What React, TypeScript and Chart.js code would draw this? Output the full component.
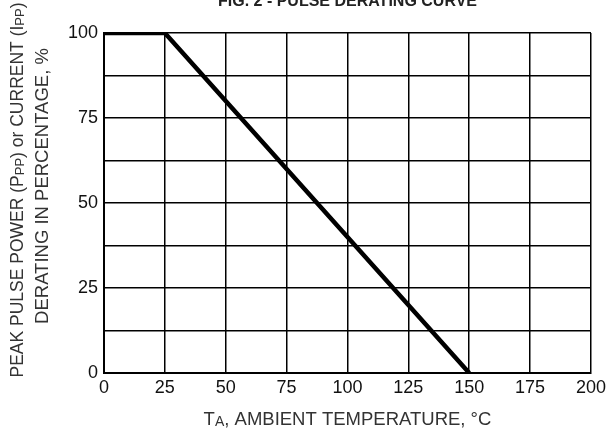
import React, { useEffect, useRef } from "react";
import { Chart, registerables } from "chart.js";

Chart.register(...registerables);

// ---- data ----
const temperatures = [0, 25, 150];
const deratingPct = [100, 100, 0];
const xTickValues = [0, 25, 50, 75, 100, 125, 150, 175, 200];
const yLabelValues = [0, 25, 50, 75, 100];
const chartTitle = "FIG. 2 - PULSE DERATING CURVE";
// [text, isSubscript]
const yTitleLine1: [string, boolean][] = [
  ["PEAK PULSE POWER (P", false],
  ["PP", true],
  [") or CURRENT (I", false],
  ["PP", true],
  [")", false],
];
const yTitleLine2: [string, boolean][] = [["DERATING IN PERCENTAGE, %", false]];
const xTitle: [string, boolean][] = [
  ["T", false],
  ["A", true],
  [", AMBIENT TEMPERATURE, °C", false],
];

const FONT = "'Liberation Sans', Arial, Helvetica, sans-serif";

function drawRuns(
  ctx: CanvasRenderingContext2D,
  runs: [string, boolean][],
  cx: number,
  baseline: number,
  size: number,
  color: string
) {
  const subSize = Math.round(size * 0.74);
  let total = 0;
  for (const [t, sub] of runs) {
    ctx.font = `${sub ? subSize : size}px ${FONT}`;
    total += ctx.measureText(t).width;
  }
  let x = cx - total / 2;
  ctx.fillStyle = color;
  ctx.textBaseline = "alphabetic";
  ctx.textAlign = "left";
  for (const [t, sub] of runs) {
    ctx.font = `${sub ? subSize : size}px ${FONT}`;
    ctx.fillText(t, x, baseline + (sub ? 1 : 0));
    x += ctx.measureText(t).width;
  }
}

const textPlugin = {
  id: "customTexts",
  afterDraw(chart: any) {
    const ctx: CanvasRenderingContext2D = chart.ctx;
    const area = chart.chartArea;
    const cx = (area.left + area.right) / 2;
    ctx.save();
    // title (partly cut off at top)
    ctx.font = `bold 16px ${FONT}`;
    ctx.fillStyle = "#222";
    ctx.textAlign = "center";
    ctx.textBaseline = "alphabetic";
    ctx.fillText(chartTitle, cx, 6);
    // x title
    drawRuns(ctx, xTitle, cx, 425, 18.5, "#333");
    // y titles (rotated)
    ctx.save();
    ctx.translate(23, 190);
    ctx.rotate(-Math.PI / 2);
    drawRuns(ctx, yTitleLine1, 0, 0, 17.5, "#333");
    ctx.restore();
    ctx.save();
    ctx.translate(48, 186);
    ctx.rotate(-Math.PI / 2);
    drawRuns(ctx, yTitleLine2, 0, 0, 18.5, "#333");
    ctx.restore();
    ctx.restore();
  },
};

export default function App() {
  const ref = useRef<HTMLCanvasElement | null>(null);
  useEffect(() => {
    if (!ref.current) return;
    const chart = new Chart(ref.current, {
      type: "line",
      data: {
        datasets: [
          {
            data: temperatures.map((t, i) => ({ x: t, y: deratingPct[i] })),
            borderColor: "#000",
            borderWidth: 4.5,
            pointRadius: 0,
            tension: 0,
            fill: false,
            borderCapStyle: "butt",
          },
        ],
      },
      options: {
        animation: false,
        responsive: false,
        devicePixelRatio: 1,
        layout: { padding: { top: 33, right: 19, left: 0, bottom: 0 } },
        plugins: {
          legend: { display: false },
          tooltip: { enabled: false },
          title: { display: false },
        },
        scales: {
          x: {
            type: "linear",
            min: 0,
            max: 200,
            afterBuildTicks: (scale: any) => {
              scale.ticks = xTickValues.map((v) => ({ value: v }));
            },
            afterFit: (scale: any) => {
              scale.height = 63;
            },
            ticks: {
              color: "#111",
              font: { family: FONT, size: 18 },
              padding: 4,
              maxRotation: 0,
              autoSkip: false,
            },
            grid: { color: "#000", lineWidth: 1.5, drawTicks: false },
            border: { color: "#000", width: 2 },
          },
          y: {
            type: "linear",
            min: 0,
            max: 100,
            ticks: {
              stepSize: 12.5,
              color: "#111",
              font: { family: FONT, size: 18 },
              padding: 6,
              autoSkip: false,
              callback: (v: any) => (yLabelValues.includes(Number(v)) ? String(v) : ""),
            },
            afterFit: (scale: any) => {
              scale.width = 104;
            },
            grid: { color: "#000", lineWidth: 1.5, drawTicks: false },
            border: { color: "#000", width: 2 },
          },
        },
      },
      plugins: [textPlugin],
    });
    return () => chart.destroy();
  }, []);
  return (
    <div style={{ position: "absolute", left: 0, top: 0, width: 610, height: 436, background: "#fff" }}>
      <canvas ref={ref} width={610} height={436} style={{ width: 610, height: 436, display: "block" }} />
    </div>
  );
}
